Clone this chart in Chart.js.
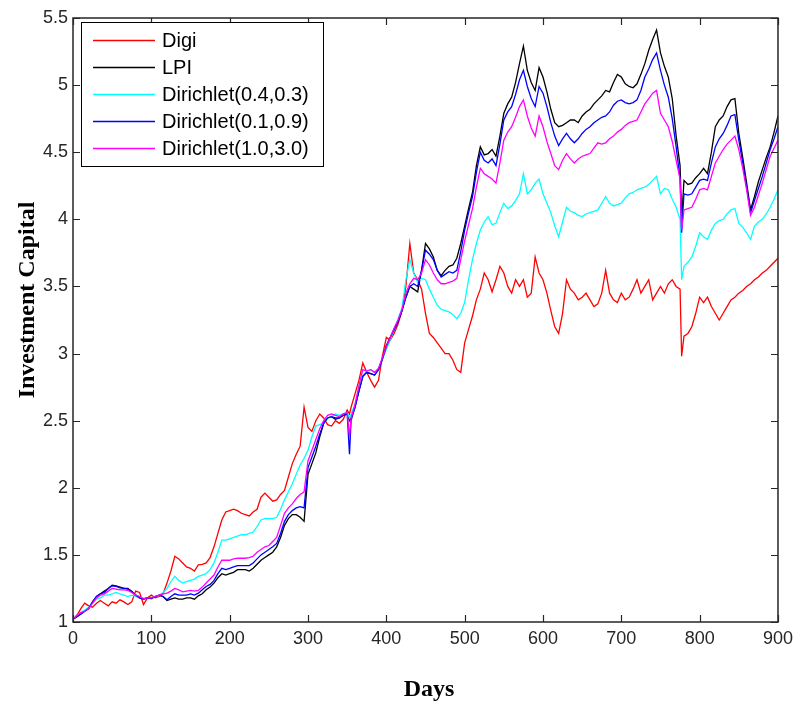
<!DOCTYPE html>
<html>
<head>
<meta charset="utf-8">
<script src="https://cdn.jsdelivr.net/npm/chart.js@4.4.0/dist/chart.umd.min.js"></script>
<style>
  body { margin: 0; background: #fff; }
  #wrap { width: 799px; height: 708px; }
</style>
</head>
<body>
<div id="wrap"><canvas id="capitalChart"></canvas></div>
<script>
// days on the x axis (every 5 days, plus day 353 and 777 where curves spike)
const days = [
  0, 5, 10, 15, 20, 25, 30, 35, 40, 45,
  50, 55, 60, 65, 70, 75, 80, 85, 90, 95,
  100, 105, 110, 115, 120, 125, 130, 135, 140, 145,
  150, 155, 160, 165, 170, 175, 180, 185, 190, 195,
  200, 205, 210, 215, 220, 225, 230, 235, 240, 245,
  250, 255, 260, 265, 270, 275, 280, 285, 290, 295,
  300, 305, 310, 315, 320, 325, 330, 335, 340, 345,
  350, 353, 355, 360, 365, 370, 375, 380, 385, 390, 395,
  400, 405, 410, 415, 420, 425, 430, 435, 440, 445,
  450, 455, 460, 465, 470, 475, 480, 485, 490, 495,
  500, 505, 510, 515, 520, 525, 530, 535, 540, 545,
  550, 555, 560, 565, 570, 575, 580, 585, 590, 595,
  600, 605, 610, 615, 620, 625, 630, 635, 640, 645,
  650, 655, 660, 665, 670, 675, 680, 685, 690, 695,
  700, 705, 710, 715, 720, 725, 730, 735, 740, 745,
  750, 755, 760, 765, 770, 775, 777, 780, 785, 790, 795,
  800, 805, 810, 815, 820, 825, 830, 835, 840, 845,
  850, 855, 860, 865, 870, 875, 880, 885, 890, 895,
  900
];

const digi = [
  1.02, 1.05, 1.10, 1.14, 1.12, 1.11, 1.14, 1.16, 1.14, 1.12,
  1.15, 1.14, 1.165, 1.15, 1.13, 1.15, 1.23, 1.22, 1.13, 1.18,
  1.20, 1.18, 1.19, 1.21, 1.29, 1.38, 1.49, 1.47, 1.44, 1.41,
  1.40, 1.38, 1.425, 1.43, 1.44, 1.48, 1.56, 1.66, 1.76, 1.82,
  1.83, 1.84, 1.83, 1.81, 1.80, 1.79, 1.82, 1.84, 1.93, 1.96,
  1.93, 1.90, 1.91, 1.95, 1.98, 2.08, 2.18, 2.25, 2.31, 2.60,
  2.45, 2.42, 2.50, 2.55, 2.52, 2.47, 2.46, 2.50, 2.48, 2.51,
  2.58, 2.55, 2.60, 2.70, 2.80, 2.93, 2.86, 2.80, 2.75, 2.80, 2.98,
  3.12, 3.10, 3.15, 3.22, 3.32, 3.50, 3.82, 3.60, 3.55, 3.48,
  3.30, 3.15, 3.12, 3.08, 3.04, 3.00, 3.00, 2.95, 2.88, 2.86,
  3.08, 3.18, 3.28, 3.40, 3.48, 3.60, 3.55, 3.46, 3.55, 3.65,
  3.60, 3.50, 3.45, 3.55, 3.50, 3.55, 3.42, 3.45, 3.72, 3.60,
  3.55, 3.45, 3.32, 3.20, 3.15, 3.30, 3.55, 3.48, 3.45, 3.40,
  3.42, 3.45, 3.40, 3.35, 3.37, 3.45, 3.62, 3.45, 3.40, 3.38,
  3.45, 3.40, 3.42, 3.48, 3.55, 3.45, 3.50, 3.55, 3.40, 3.45,
  3.50, 3.45, 3.52, 3.55, 3.50, 3.48, 2.98, 3.13, 3.15, 3.20, 3.30,
  3.42, 3.38, 3.42, 3.35, 3.30, 3.25, 3.30, 3.35, 3.40, 3.42,
  3.45, 3.47, 3.50, 3.52, 3.55, 3.57, 3.60, 3.62, 3.65, 3.68,
  3.71
];

const lpi = [
  1.02, 1.04, 1.06, 1.08, 1.10, 1.15, 1.19, 1.21, 1.23, 1.25,
  1.275, 1.27, 1.26, 1.25, 1.25, 1.23, 1.20, 1.18, 1.17, 1.18,
  1.175, 1.19, 1.20, 1.19, 1.16, 1.17, 1.18, 1.17, 1.17, 1.18,
  1.18, 1.17, 1.195, 1.21, 1.24, 1.26, 1.29, 1.33, 1.36, 1.35,
  1.36, 1.37, 1.39, 1.39, 1.39, 1.38, 1.40, 1.43, 1.46, 1.48,
  1.50, 1.52, 1.56, 1.63, 1.72, 1.77, 1.80, 1.80, 1.78, 1.75,
  2.10, 2.18, 2.26, 2.38, 2.48, 2.52, 2.53, 2.51, 2.52, 2.54,
  2.55, 2.50, 2.52, 2.60, 2.72, 2.83, 2.86, 2.85, 2.84, 2.88, 2.96,
  3.06, 3.12, 3.18, 3.24, 3.32, 3.42, 3.50, 3.48, 3.46, 3.62,
  3.82, 3.78, 3.72, 3.62, 3.58, 3.62, 3.65, 3.66, 3.71, 3.82,
  3.95, 4.08, 4.20, 4.40, 4.54, 4.48, 4.49, 4.52, 4.47, 4.62,
  4.79, 4.86, 4.91, 5.02, 5.16, 5.29, 5.11, 5.02, 4.96, 5.13,
  5.06, 4.95, 4.82, 4.72, 4.69, 4.70, 4.72, 4.74, 4.74, 4.72,
  4.77, 4.80, 4.82, 4.86, 4.89, 4.92, 4.96, 4.95, 5.02, 5.08,
  5.06, 5.01, 4.99, 4.98, 5.01, 5.08, 5.16, 5.26, 5.34, 5.41,
  5.24, 5.14, 5.06, 4.90, 4.62, 4.40, 4.00, 4.29, 4.26, 4.27, 4.31,
  4.34, 4.38, 4.34, 4.50, 4.69, 4.74, 4.77, 4.84, 4.89, 4.90,
  4.64, 4.46, 4.27, 4.07, 4.17, 4.28, 4.37, 4.46, 4.54, 4.65,
  4.77
];

const dir0403 = [
  1.02, 1.05, 1.07, 1.09, 1.11, 1.14, 1.17, 1.18, 1.20, 1.20,
  1.21, 1.22, 1.21, 1.20, 1.19, 1.20, 1.19, 1.18, 1.17, 1.18,
  1.18, 1.19, 1.20, 1.22, 1.25, 1.30, 1.34, 1.31, 1.29, 1.30,
  1.31, 1.32, 1.34, 1.35, 1.36, 1.39, 1.44, 1.52, 1.61, 1.61,
  1.62, 1.63, 1.64, 1.65, 1.65, 1.66, 1.67, 1.71, 1.76, 1.77,
  1.77, 1.77, 1.78, 1.84, 1.91, 1.97, 2.03, 2.10, 2.17, 2.22,
  2.28, 2.38, 2.46, 2.47, 2.48, 2.52, 2.53, 2.55, 2.54, 2.55,
  2.56, 2.52, 2.55, 2.62, 2.74, 2.83, 2.87, 2.88, 2.86, 2.88, 2.96,
  3.03, 3.10, 3.18, 3.26, 3.34, 3.55, 3.70, 3.60, 3.53, 3.56,
  3.55, 3.48, 3.42, 3.36, 3.33, 3.32, 3.31, 3.29, 3.26, 3.30,
  3.38, 3.55, 3.70, 3.82, 3.92, 3.98, 4.02, 3.96, 3.97, 4.05,
  4.12, 4.08, 4.10, 4.14, 4.19, 4.34, 4.19, 4.22, 4.27, 4.30,
  4.19, 4.12, 4.05, 3.95, 3.87, 3.98, 4.09, 4.06, 4.05, 4.03,
  4.02, 4.04, 4.05, 4.06, 4.07, 4.12, 4.17, 4.12, 4.10, 4.11,
  4.12, 4.16, 4.19, 4.20, 4.22, 4.23, 4.24, 4.26, 4.29, 4.32,
  4.19, 4.23, 4.22, 4.15, 4.09, 4.00, 3.55, 3.65, 3.68, 3.72, 3.80,
  3.90, 3.87, 3.85, 3.92, 3.97, 3.99, 4.00, 4.04, 4.07, 4.08,
  3.97, 3.94, 3.90, 3.85, 3.95, 3.98, 4.00, 4.04, 4.09, 4.15,
  4.22
];

const dir0109 = [
  1.02, 1.04, 1.06, 1.08, 1.10, 1.15, 1.19, 1.21, 1.22, 1.25,
  1.27, 1.265, 1.255, 1.25, 1.245, 1.225, 1.20, 1.18, 1.17, 1.18,
  1.175, 1.19, 1.20, 1.19, 1.165, 1.19, 1.21, 1.20, 1.20, 1.20,
  1.21, 1.20, 1.215, 1.24, 1.265, 1.28, 1.31, 1.36, 1.40, 1.39,
  1.40, 1.41, 1.42, 1.42, 1.42, 1.42, 1.44, 1.47, 1.50, 1.52,
  1.54, 1.56, 1.585, 1.66, 1.75, 1.80, 1.83, 1.85, 1.86, 1.85,
  2.15, 2.23, 2.31, 2.40, 2.48, 2.52, 2.53, 2.52, 2.52, 2.54,
  2.55, 2.25, 2.50, 2.60, 2.72, 2.83, 2.86, 2.85, 2.84, 2.88, 2.96,
  3.05, 3.12, 3.18, 3.24, 3.32, 3.42, 3.50, 3.52, 3.50, 3.62,
  3.77, 3.74, 3.70, 3.62, 3.57, 3.59, 3.61, 3.60, 3.62, 3.76,
  3.92, 4.05, 4.17, 4.35, 4.50, 4.44, 4.42, 4.45, 4.40, 4.56,
  4.74, 4.80, 4.84, 4.93, 5.04, 5.11, 4.99, 4.90, 4.84, 4.99,
  4.94, 4.84, 4.72, 4.62, 4.55, 4.60, 4.64, 4.60, 4.57, 4.60,
  4.64, 4.67, 4.69, 4.72, 4.74, 4.76, 4.77, 4.80, 4.85, 4.88,
  4.89, 4.87, 4.86, 4.87, 4.89, 4.96, 5.06, 5.12, 5.19, 5.24,
  5.11, 5.00, 4.91, 4.75, 4.54, 4.30, 3.90, 4.19, 4.18, 4.19, 4.24,
  4.29, 4.30, 4.29, 4.42, 4.54, 4.60, 4.64, 4.70, 4.77, 4.78,
  4.59, 4.42, 4.24, 4.05, 4.14, 4.23, 4.32, 4.42, 4.52, 4.60,
  4.69
];

const dir1030 = [
  1.02, 1.05, 1.07, 1.08, 1.10, 1.14, 1.18, 1.20, 1.21, 1.23,
  1.25, 1.245, 1.24, 1.24, 1.235, 1.22, 1.20, 1.19, 1.175, 1.18,
  1.18, 1.19, 1.20, 1.21, 1.215, 1.23, 1.25, 1.24, 1.225, 1.23,
  1.235, 1.23, 1.235, 1.26, 1.29, 1.32, 1.35, 1.41, 1.46, 1.46,
  1.46, 1.47, 1.475, 1.475, 1.475, 1.48, 1.49, 1.52, 1.54, 1.56,
  1.57, 1.60, 1.63, 1.72, 1.81, 1.85, 1.88, 1.92, 1.95, 1.97,
  2.20, 2.28, 2.36, 2.44, 2.50, 2.54, 2.55, 2.54, 2.53, 2.55,
  2.56, 2.38, 2.52, 2.62, 2.76, 2.88, 2.87, 2.88, 2.86, 2.89, 2.97,
  3.05, 3.12, 3.19, 3.25, 3.33, 3.45, 3.52, 3.56, 3.55, 3.60,
  3.70, 3.66, 3.60, 3.55, 3.52, 3.52, 3.53, 3.54, 3.56, 3.70,
  3.84, 3.96, 4.08, 4.24, 4.38, 4.34, 4.32, 4.30, 4.27, 4.42,
  4.59, 4.65, 4.69, 4.76, 4.84, 4.89, 4.77, 4.68, 4.62, 4.77,
  4.69, 4.58, 4.49, 4.40, 4.37, 4.44, 4.49, 4.45, 4.42, 4.45,
  4.47, 4.48, 4.49, 4.53, 4.57, 4.56, 4.57, 4.60, 4.62, 4.65,
  4.67, 4.70, 4.72, 4.73, 4.74, 4.80, 4.86, 4.90, 4.94, 4.96,
  4.79, 4.74, 4.69, 4.58, 4.44, 4.30, 3.92, 4.07, 4.08, 4.09, 4.15,
  4.22, 4.23, 4.22, 4.32, 4.42, 4.47, 4.52, 4.56, 4.59, 4.62,
  4.52, 4.38, 4.22, 4.03, 4.09, 4.18, 4.27, 4.37, 4.47, 4.53,
  4.59
];

const seriesNames = ["Digi", "LPI", "Dirichlet(0.4,0.3)", "Dirichlet(0.1,0.9)", "Dirichlet(1.0,3.0)"];
const seriesColors = ["#ff0000", "#000000", "#00ffff", "#0000ff", "#ff00ff"];
const xTicks = [0, 100, 200, 300, 400, 500, 600, 700, 800, 900];
const yTicks = [1, 1.5, 2, 2.5, 3, 3.5, 4, 4.5, 5, 5.5];

const allSeries = [digi, lpi, dir0403, dir0109, dir1030];

function toPoints(values) {
    return values.map((v, i) => ({ x: days[i], y: v }));
}

// box, inward ticks, legend and axis titles in the MATLAB style
const matlabFrame = {
    id: "matlabFrame",
    afterDatasetsDraw(chart) {
        const ctx = chart.ctx;
        const a = chart.chartArea;
        const xs = chart.scales.x;
        const ys = chart.scales.y;
        const tick = 7;

        ctx.save();
        ctx.strokeStyle = "#262626";
        ctx.lineWidth = 1.5;
        ctx.strokeRect(a.left, a.top, a.right - a.left, a.bottom - a.top);

        ctx.lineWidth = 1.2;
        ctx.beginPath();
        xTicks.forEach(t => {
            const px = Math.round(xs.getPixelForValue(t)) + 0.5;
            ctx.moveTo(px, a.bottom); ctx.lineTo(px, a.bottom - tick);
            ctx.moveTo(px, a.top); ctx.lineTo(px, a.top + tick);
        });
        yTicks.forEach(t => {
            const py = Math.round(ys.getPixelForValue(t)) + 0.5;
            ctx.moveTo(a.left, py); ctx.lineTo(a.left + tick, py);
            ctx.moveTo(a.right, py); ctx.lineTo(a.right - tick, py);
        });
        ctx.stroke();

        // legend
        const lx = a.left + 8, ly = a.top + 4, lw = 242, lh = 144;
        ctx.fillStyle = "#ffffff";
        ctx.fillRect(lx, ly, lw, lh);
        ctx.strokeStyle = "#000000";
        ctx.lineWidth = 1;
        ctx.strokeRect(lx + 0.5, ly + 0.5, lw, lh);

        ctx.font = "20px 'Liberation Sans', Arial, sans-serif";
        ctx.textBaseline = "middle";
        ctx.textAlign = "left";
        seriesNames.forEach((name, i) => {
            const y = ly + 18 + i * 27;
            ctx.strokeStyle = seriesColors[i];
            ctx.lineWidth = 1.3;
            ctx.beginPath();
            ctx.moveTo(lx + 12, y + 0.5);
            ctx.lineTo(lx + 74, y + 0.5);
            ctx.stroke();
            ctx.fillStyle = "#000000";
            ctx.fillText(name, lx + 81, y + 1);
        });

        // axis titles
        ctx.fillStyle = "#000000";
        ctx.font = "bold 24px 'Liberation Serif', 'Times New Roman', serif";
        ctx.textAlign = "center";
        ctx.fillText("Days", 429, 690);
        ctx.translate(28, 300);
        ctx.rotate(-Math.PI / 2);
        ctx.fillText("Investment Capital", 0, 0);
        ctx.restore();
    }
};

const ctx = document.getElementById("capitalChart").getContext("2d");

new Chart(ctx, {
    type: "line",
    data: {
        datasets: allSeries.map((values, i) => ({
            label: seriesNames[i],
            data: toPoints(values),
            borderColor: seriesColors[i],
            backgroundColor: seriesColors[i],
            borderWidth: 1.3,
            pointRadius: 0,
            tension: 0,
            fill: false,
            order: 5 - i
        }))
    },
    options: {
        responsive: true,
        maintainAspectRatio: false,
        animation: false,
        layout: { padding: { left: 0, top: 18, right: 19, bottom: 0 } },
        plugins: {
            legend: { display: false },
            tooltip: { enabled: false }
        },
        scales: {
            x: {
                type: "linear",
                min: 0,
                max: 900,
                afterBuildTicks: s => { s.ticks = xTicks.map(v => ({ value: v })); },
                afterFit: s => { s.height = 86; },
                grid: { display: false, drawTicks: false },
                border: { display: false },
                ticks: {
                    padding: 6,
                    color: "#262626",
                    font: { family: "'Liberation Sans', Arial, sans-serif", size: 18 },
                    maxRotation: 0,
                    callback: v => String(v)
                }
            },
            y: {
                type: "linear",
                min: 1,
                max: 5.5,
                afterBuildTicks: s => { s.ticks = yTicks.map(v => ({ value: v })); },
                afterFit: s => { s.width = 73; },
                grid: { display: false, drawTicks: false },
                border: { display: false },
                ticks: {
                    padding: 5,
                    color: "#262626",
                    font: { family: "'Liberation Sans', Arial, sans-serif", size: 18 },
                    callback: v => String(v)
                }
            }
        }
    },
    plugins: [matlabFrame]
});
</script>
</body>
</html>
